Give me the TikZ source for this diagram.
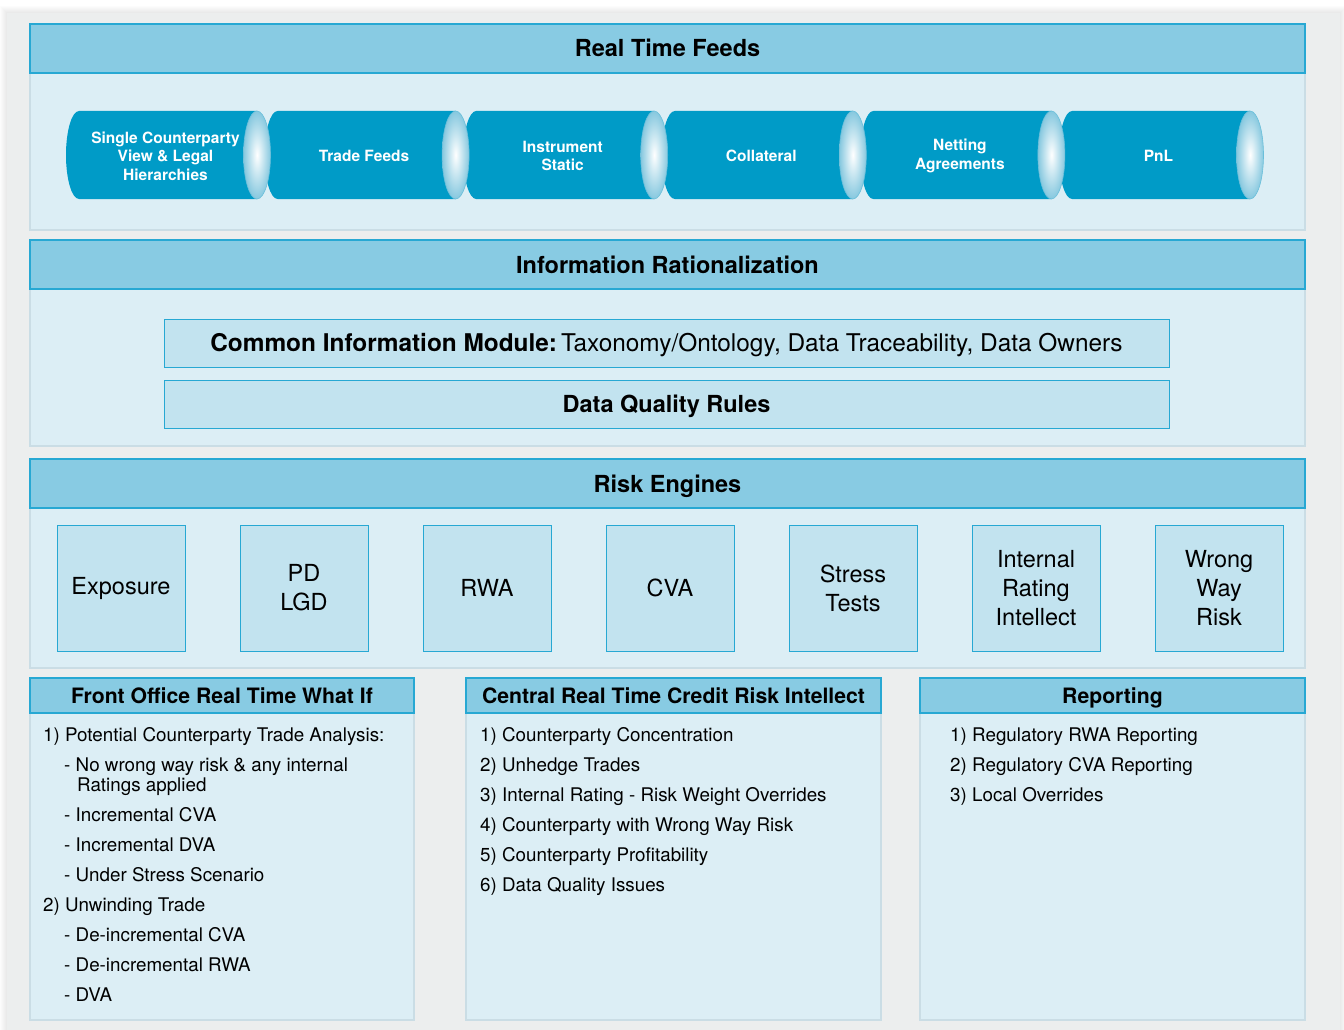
\documentclass[tikz,border=0pt]{standalone}
\usepackage{fontspec}
\setmainfont{TeX Gyre Heros}
\definecolor{pagegray}{HTML}{ECEEEE}
\definecolor{hdrblue}{HTML}{88CBE3}
\definecolor{lineblue}{HTML}{27A8D3}
\definecolor{bodyblue}{HTML}{DCEEF5}
\definecolor{boxblue}{HTML}{C2E3EF}
\definecolor{pipeblue}{HTML}{009BC7}
\definecolor{capblue}{HTML}{86C8DF}
\definecolor{edgegray}{HTML}{CADDE5}
\begin{document}
\begin{tikzpicture}[x=1pt, y=-1pt,
    panel/.style = {fill=bodyblue, draw=edgegray, line width=1.5pt, inner sep=0pt},
    hdr/.style = {fill=hdrblue, draw=lineblue, line width=1.2pt, inner sep=0pt, minimum height=49pt,
                  text height=17pt, text depth=0pt, font=\fontsize{23.5}{28}\selectfont\bfseries},
    subhdr/.style = {hdr, minimum height=35pt, text height=15pt, font=\fontsize{21.2}{25}\selectfont\bfseries},
    infobox/.style = {fill=boxblue, draw=lineblue, line width=1pt, minimum width=1005pt, minimum height=48pt,
                      inner sep=0pt, text height=17pt, text depth=0pt, font=\fontsize{23.5}{28}\selectfont},
    engine/.style = {fill=boxblue, draw=lineblue, line width=1pt, minimum width=128pt, minimum height=126pt,
                     inner sep=0pt, align=center, font=\fontsize{23.5}{29}\selectfont},
    pipetxt/.style = {text=white, align=center, inner sep=0pt, font=\fontsize{15.5}{18.5}\selectfont\bfseries},
    item/.style = {anchor=base west, inner sep=0pt, font=\fontsize{18.8}{22}\selectfont}]
\useasboundingbox (0,0) rectangle (1344,1030);
\fill[white] (0,0) rectangle (1344,1030);
% soft shadow and grey page
\foreach \k in {1,...,7}
    \fill[black, opacity=0.012] (7-\k,13-\k) rectangle (1340+\k,1036);
\fill[pagegray] (7,13) rectangle (1340,1036);

% real time feeds
\node[panel, minimum width=1275pt, minimum height=157pt] (feedsbody) at (667.5,151.5) {};
\node[hdr, minimum width=1275pt] (feeds) at (667.5,48.5) {Real Time Feeds};
\foreach \i/\name/\txt in {0/single/{Single Counterparty\\View \& Legal\\Hierarchies},
                            1/trade/Trade Feeds,
                            2/instr/{Instrument\\Static},
                            3/coll/Collateral,
                            4/netting/{Netting\\Agreements},
                            5/pnl/PnL} {
    \pgfmathsetmacro{\a}{79+198.6*\i}
    \pgfmathsetmacro{\b}{\a+178}
    \fill[pipeblue] (\a,111) -- (\b,111) -- (\b,199) -- (\a,199)
        arc[start angle=90, end angle=270, x radius=13, y radius=44] -- cycle;
    \node[pipetxt] (\name) at (\a+86.5,156) {\txt};
}
\foreach \i in {0,...,5} {
    \pgfmathsetmacro{\b}{257+198.6*\i}
    \shade[inner color=white, outer color=capblue] (\b,155) ellipse[x radius=13.5, y radius=44];
    \draw[capblue!80!pipeblue, line width=0.6pt] (\b,155) ellipse[x radius=13.5, y radius=44];
}

% information rationalization
\node[panel, minimum width=1275pt, minimum height=157pt] (infobody) at (667.5,367.5) {};
\node[hdr, minimum width=1275pt] (info) at (667.5,264.5) {Information Rationalization};
\node[infobox, font=\fontsize{24.4}{28}\selectfont] (cim) at (666.5,343)
    {\textbf{Common Information Module:}\,Taxonomy/Ontology, Data Traceability, Data Owners};
\node[infobox] (dq) at (666.5,404) {\textbf{Data Quality Rules}};

% risk engines
\node[panel, minimum width=1275pt, minimum height=160pt] (riskbody) at (667.5,588) {};
\node[hdr, minimum width=1275pt] (risk) at (667.5,483.5) {Risk Engines};
\foreach \i/\name/\txt in {0/expo/Exposure, 1/pdlgd/{PD\\LGD}, 2/rwa/RWA, 3/cva/CVA,
                            4/stress/{Stress\\Tests}, 5/rating/{Internal\\Rating\\Intellect},
                            6/wwr/{Wrong\\Way\\Risk}}
    \node[engine] (\name) at (121+183*\i,588) {\txt};

% front office what if
\node[panel, minimum width=384pt, minimum height=307pt] (fobody) at (222,866.5) {};
\node[subhdr, minimum width=384pt] (fo) at (222,695.5) {Front Office Real Time What If};
\foreach \n/\x/\y/\t in {1/43/741.5/{1) Potential Counterparty Trade Analysis:},
                         2/64/771.5/{- No wrong way risk \& any internal},
                         3/77/791.5/{Ratings applied},
                         4/64/821.5/{- Incremental CVA},
                         5/64/851.5/{- Incremental DVA},
                         6/64/881.5/{- Under Stress Scenario},
                         7/43/911.5/{2) Unwinding Trade},
                         8/64/941.5/{- De-incremental CVA},
                         9/64/971.5/{- De-incremental RWA},
                         10/64/1001.5/{- DVA}}
    \node[item] (fo\n) at (\x,\y) {\t};

% central credit risk intellect
\node[panel, minimum width=415pt, minimum height=307pt] (crbody) at (673.5,866.5) {};
\node[subhdr, minimum width=415pt] (cr) at (673.5,695.5) {Central Real Time Credit Risk Intellect};
\foreach \n/\t in {1/Counterparty Concentration, 2/Unhedge Trades,
                   3/Internal Rating - Risk Weight Overrides, 4/Counterparty with Wrong Way Risk,
                   5/Counterparty Profitability, 6/Data Quality Issues}
    \node[item] (cr\n) at (480,711.5+30*\n) {\n) \t};

% reporting
\node[panel, minimum width=385pt, minimum height=307pt] (rpbody) at (1112.5,866.5) {};
\node[subhdr, minimum width=385pt] (rp) at (1112.5,695.5) {Reporting};
\foreach \n/\t in {1/Regulatory RWA Reporting, 2/Regulatory CVA Reporting, 3/Local Overrides}
    \node[item] (rp\n) at (950,711.5+30*\n) {\n) \t};
\end{tikzpicture}
\end{document}
